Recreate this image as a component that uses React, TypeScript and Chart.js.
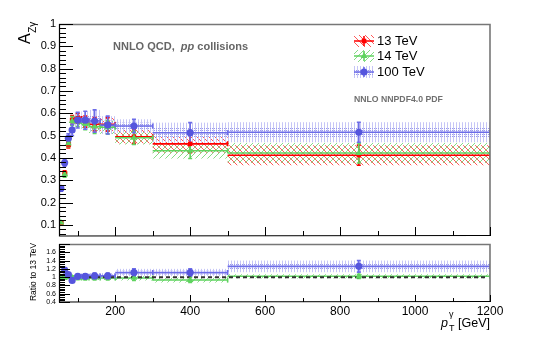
import React, { useEffect, useRef } from "react";
import { Chart, registerables } from "chart.js";
Chart.register(...registerables);

const FONT = "'Liberation Sans', Arial, Helvetica, sans-serif";

// ---- data ----
const binEdges = [50, 60, 70, 80, 90, 110, 130, 160, 200, 300, 500, 1200];
const seriesNames = ["13 TeV", "14 TeV", "100 TeV"];
const azg13 = [0.11, 0.33, 0.46, 0.57, 0.577, 0.563, 0.551, 0.55, 0.495, 0.463, 0.412];
const err13 = [0.008, 0.012, 0.015, 0.02, 0.022, 0.025, 0.03, 0.03, 0.03, 0.04, 0.045];
const azg14 = [0.11, 0.326, 0.465, 0.565, 0.563, 0.551, 0.54, 0.537, 0.49, 0.432, 0.422];
const err14 = [0.008, 0.012, 0.015, 0.02, 0.022, 0.025, 0.03, 0.03, 0.03, 0.035, 0.045];
const azg100 = [0.263, 0.378, 0.488, 0.525, 0.569, 0.569, 0.565, 0.547, 0.543, 0.513, 0.515];
const err100 = [0.012, 0.015, 0.02, 0.025, 0.035, 0.04, 0.05, 0.04, 0.03, 0.045, 0.045];
const ratio14 = [1.0, 0.99, 1.01, 0.99, 0.98, 0.98, 0.98, 0.98, 0.98, 0.93, 1.02];
const ratioErr14 = [0.04, 0.03, 0.03, 0.03, 0.04, 0.05, 0.05, 0.05, 0.06, 0.06, 0.05];
const ratio100 = [2.4, 1.17, 1.06, 0.92, 1.02, 1.02, 1.03, 1.03, 1.11, 1.11, 1.26];
const ratioErr100 = [0.1, 0.05, 0.04, 0.04, 0.05, 0.06, 0.07, 0.07, 0.09, 0.09, 0.14];
const yTicksMain = [0.1, 0.2, 0.3, 0.4, 0.5, 0.6, 0.7, 0.8, 0.9, 1];
const yTicksRatio = [0.4, 0.6, 0.8, 1, 1.2, 1.4, 1.6];
const xTicks = [200, 400, 600, 800, 1000, 1200];

const RED = "#ff0000";
const GREEN = "#5fd35f";
const BLUE_M = "#5555dd";
const BLUE_L = "#6c6ce8";

type Pats = { red: any; green: any; blueOuter: any; blueInner: any };
let patCache: Pats | null = null;
function patterns(ctx: CanvasRenderingContext2D): Pats {
  if (patCache) return patCache;
  const mk = (w: number, h: number, fn: (g: CanvasRenderingContext2D) => void) => {
    const c = document.createElement("canvas");
    c.width = w;
    c.height = h;
    const g = c.getContext("2d")!;
    fn(g);
    return ctx.createPattern(c, "repeat");
  };
  patCache = {
    red: mk(6, 6, (g) => {
      g.fillStyle = "rgba(255,70,70,0.9)";
      for (let i = 0; i < 6; i++) g.fillRect(i, i, 1, 1);
    }),
    green: mk(6, 6, (g) => {
      g.fillStyle = "rgba(120,215,120,0.9)";
      for (let i = 0; i < 6; i++) g.fillRect(5 - i, i, 1, 1);
    }),
    blueOuter: mk(3, 1, (g) => {
      g.fillStyle = "#c6c6f6";
      g.fillRect(0, 0, 1, 1);
    }),
    blueInner: mk(2, 2, (g) => {
      g.fillStyle = "#9a9aec";
      g.fillRect(0, 0, 1, 1);
    }),
  };
  return patCache;
}

type Series = { vals: number[]; errs: number[]; color: string; band: "red" | "green" | "blue" };

function drawSeriesBands(chart: any, series: Series[]) {
  const { ctx, chartArea: a, scales } = chart;
  const xs = scales.x;
  const ys = scales.y;
  const p = patterns(ctx);
  ctx.save();
  ctx.beginPath();
  ctx.rect(a.left, a.top, a.right - a.left, a.bottom - a.top);
  ctx.clip();
  for (const s of series) {
    for (let i = 0; i < s.vals.length; i++) {
      const xl = xs.getPixelForValue(binEdges[i]);
      const xr = xs.getPixelForValue(binEdges[i + 1]);
      const yt = ys.getPixelForValue(s.vals[i] + s.errs[i]);
      const yb = ys.getPixelForValue(s.vals[i] - s.errs[i]);
      if (s.band === "blue") {
        ctx.fillStyle = p.blueOuter;
        ctx.fillRect(xl, yt, xr - xl, yb - yt);
        const yt2 = ys.getPixelForValue(s.vals[i] + s.errs[i] * 0.5);
        const yb2 = ys.getPixelForValue(s.vals[i] - s.errs[i] * 0.5);
        ctx.fillStyle = p.blueInner;
        ctx.fillRect(xl, yt2, xr - xl, yb2 - yt2);
      } else {
        ctx.fillStyle = p[s.band];
        ctx.fillRect(xl, yt, xr - xl, yb - yt);
      }
    }
  }
  for (const s of series) {
    ctx.strokeStyle = s.color;
    ctx.lineWidth = 1.6;
    for (let i = 0; i < s.vals.length; i++) {
      const xl = xs.getPixelForValue(binEdges[i]);
      const xr = xs.getPixelForValue(binEdges[i + 1]);
      const xc = xs.getPixelForValue((binEdges[i] + binEdges[i + 1]) / 2);
      const yc = ys.getPixelForValue(s.vals[i]);
      const yt = ys.getPixelForValue(s.vals[i] + s.errs[i]);
      const yb = ys.getPixelForValue(s.vals[i] - s.errs[i]);
      ctx.beginPath();
      ctx.moveTo(xl, yc);
      ctx.lineTo(xr, yc);
      ctx.moveTo(xr, yc - 2.5);
      ctx.lineTo(xr, yc + 2.5);
      ctx.moveTo(xc, yt);
      ctx.lineTo(xc, yb);
      ctx.moveTo(xc - 2, yt);
      ctx.lineTo(xc + 2, yt);
      ctx.moveTo(xc - 2, yb);
      ctx.lineTo(xc + 2, yb);
      ctx.stroke();
    }
  }
  ctx.restore();
}

function drawFrameAndTicks(chart: any, yMinorStep: number, yMajLen: number, yMinLen: number, xMajLen: number, xMinLen: number) {
  const { ctx, chartArea: a, scales } = chart;
  const ys = scales.y;
  const xs = scales.x;
  ctx.save();
  ctx.strokeStyle = "#777";
  ctx.lineWidth = 1.6;
  ctx.beginPath();
  ctx.moveTo(a.left, a.top + 0.5);
  ctx.lineTo(a.right, a.top + 0.5);
  ctx.lineTo(a.right, a.bottom);
  ctx.stroke();
  ctx.strokeStyle = "#000";
  ctx.lineWidth = 1.2;
  ctx.beginPath();
  ctx.moveTo(a.left + 0.5, a.top);
  ctx.lineTo(a.left + 0.5, a.bottom);
  ctx.lineTo(a.right, a.bottom - 0.5);
  ctx.stroke();
  ctx.lineWidth = 1;
  ctx.beginPath();
  const ymin = ys.min;
  const ymax = ys.max;
  const nStart = Math.ceil(ymin / yMinorStep - 1e-6);
  const nEnd = Math.floor(ymax / yMinorStep + 1e-6);
  for (let n = nStart; n <= nEnd; n++) {
    const v = n * yMinorStep;
    const major = Math.abs(v * 10 - Math.round(v * 10)) < 1e-6 && (yMinorStep < 0.03 || Math.round(v * 10) % 2 === 0);
    const y = Math.round(ys.getPixelForValue(v)) + 0.5;
    ctx.moveTo(a.left, y);
    ctx.lineTo(a.left + (major ? yMajLen : yMinLen), y);
  }
  for (let v = 100; v <= 1200; v += 100) {
    const x = Math.round(xs.getPixelForValue(v)) + 0.5;
    const major = v % 200 === 0;
    ctx.moveTo(x, a.bottom);
    ctx.lineTo(x, a.bottom - (major ? xMajLen : xMinLen));
  }
  ctx.stroke();
  ctx.restore();
}

function drawMarker(ctx: CanvasRenderingContext2D, style: string, x: number, y: number, color: string) {
  ctx.fillStyle = color;
  ctx.beginPath();
  if (style === "rect") ctx.rect(x - 2.3, y - 2.3, 4.6, 4.6);
  else if (style === "triangle") {
    ctx.moveTo(x, y - 3.8);
    ctx.lineTo(x + 3.3, y + 1.9);
    ctx.lineTo(x - 3.3, y + 1.9);
    ctx.closePath();
  } else ctx.arc(x, y, 3.6, 0, Math.PI * 2);
  ctx.fill();
}

const mainSeries: Series[] = [
  { vals: azg13, errs: err13, color: RED, band: "red" },
  { vals: azg14, errs: err14, color: GREEN, band: "green" },
  { vals: azg100, errs: err100, color: BLUE_L, band: "blue" },
];
const ratioSeries: Series[] = [
  { vals: ratio14, errs: ratioErr14, color: GREEN, band: "green" },
  { vals: ratio100, errs: ratioErr100, color: BLUE_L, band: "blue" },
];

const topPlugin = {
  id: "topPanel",
  beforeDatasetsDraw(chart: any) {
    drawSeriesBands(chart, mainSeries);
  },
  afterDraw(chart: any) {
    const ctx: CanvasRenderingContext2D = chart.ctx;
    drawFrameAndTicks(chart, 0.02, 14, 7, 9, 5);
    ctx.save();
    ctx.fillStyle = "#666";
    ctx.textBaseline = "alphabetic";
    ctx.textAlign = "left";
    let x = 113;
    const yb = 50;
    ctx.font = `bold 11px ${FONT}`;
    const t1 = "NNLO QCD,  ";
    ctx.fillText(t1, x, yb);
    x += ctx.measureText(t1).width;
    ctx.font = `italic bold 11px ${FONT}`;
    ctx.fillText("pp", x, yb);
    x += ctx.measureText("pp").width;
    ctx.font = `bold 11px ${FONT}`;
    ctx.fillText(" collisions", x, yb);
    ctx.fillStyle = "#707070";
    ctx.font = `bold 8.7px ${FONT}`;
    ctx.fillText("NNLO NNPDF4.0 PDF", 354, 102);
    const rows = [41, 56, 72];
    const p = patterns(ctx);
    const styles = ["rect", "triangle", "circle"];
    const lineCols = [RED, GREEN, BLUE_L];
    const markCols = [RED, GREEN, BLUE_M];
    for (let k = 0; k < 3; k++) {
      const y = rows[k];
      if (k === 2) {
        ctx.fillStyle = p.blueOuter;
        ctx.fillRect(354, y - 6, 20, 12);
        ctx.fillStyle = p.blueInner;
        ctx.fillRect(354, y - 3, 20, 6);
      } else {
        ctx.fillStyle = k === 0 ? p.red : p.green;
        ctx.fillRect(354, y - 6, 20, 12);
      }
      ctx.strokeStyle = lineCols[k];
      ctx.lineWidth = 1.6;
      ctx.beginPath();
      ctx.moveTo(354, y);
      ctx.lineTo(374, y);
      ctx.moveTo(364, y - 5);
      ctx.lineTo(364, y + 5);
      ctx.stroke();
      drawMarker(ctx, styles[k], 364, y, markCols[k]);
      ctx.fillStyle = "#000";
      ctx.font = `13px ${FONT}`;
      ctx.textBaseline = "middle";
      ctx.fillText(seriesNames[k], 377, y + 0.5);
    }
    ctx.translate(30, 44);
    ctx.rotate(-Math.PI / 2);
    ctx.fillStyle = "#000";
    ctx.textBaseline = "alphabetic";
    ctx.font = `16px ${FONT}`;
    ctx.fillText("A", 0, 0);
    const wa = ctx.measureText("A").width;
    ctx.font = `10px ${FONT}`;
    ctx.fillText("Zγ", wa + 0.5, 6);
    ctx.restore();
  },
};

const bottomPlugin = {
  id: "bottomPanel",
  beforeDatasetsDraw(chart: any) {
    drawSeriesBands(chart, ratioSeries);
    const { ctx, chartArea: a, scales } = chart;
    const y = scales.y.getPixelForValue(1);
    ctx.save();
    ctx.strokeStyle = "#333";
    ctx.lineWidth = 2;
    ctx.setLineDash([4, 3]);
    ctx.beginPath();
    ctx.moveTo(a.left + 2, y);
    ctx.lineTo(a.right - 2, y);
    ctx.stroke();
    ctx.restore();
  },
  afterDraw(chart: any) {
    const ctx: CanvasRenderingContext2D = chart.ctx;
    drawFrameAndTicks(chart, 0.04, 11, 6, 7, 4);
    ctx.save();
    ctx.fillStyle = "#000";
    ctx.font = `8.5px ${FONT}`;
    ctx.textAlign = "center";
    ctx.textBaseline = "alphabetic";
    ctx.translate(36, 32);
    ctx.rotate(-Math.PI / 2);
    ctx.fillText("Ratio to 13 TeV", 0, 0);
    ctx.restore();
    ctx.save();
    ctx.fillStyle = "#000";
    ctx.textAlign = "left";
    ctx.textBaseline = "alphabetic";
    const base = 87;
    ctx.font = `italic 12.5px ${FONT}`;
    const wp = ctx.measureText("p").width;
    ctx.font = `12.5px ${FONT}`;
    const wg = ctx.measureText(" [GeV]").width;
    ctx.font = `9px ${FONT}`;
    const ws = Math.max(ctx.measureText("T").width, ctx.measureText("γ").width);
    const x0 = 490 - (wp + ws + 1 + wg);
    ctx.font = `italic 12.5px ${FONT}`;
    ctx.fillText("p", x0, base);
    ctx.font = `9px ${FONT}`;
    ctx.fillText("γ", x0 + wp + 1, base - 10);
    ctx.fillText("T", x0 + wp + 1, base + 4);
    ctx.font = `12.5px ${FONT}`;
    ctx.fillText(" [GeV]", x0 + wp + ws + 1, base);
    ctx.restore();
  },
};

export default function App() {
  const topRef = useRef<HTMLCanvasElement>(null);
  const botRef = useRef<HTMLCanvasElement>(null);
  useEffect(() => {
    const centers = binEdges.slice(0, -1).map((e, i) => (e + binEdges[i + 1]) / 2);
    const pts = (vals: number[]) => vals.map((v, i) => ({ x: centers[i], y: v }));
    const ds = (label: string, vals: number[], style: string, r: number, color: string, order: number) => ({
      label,
      data: pts(vals),
      pointStyle: style,
      pointRadius: r,
      pointBackgroundColor: color,
      pointBorderColor: color,
      pointBorderWidth: 0,
      showLine: false,
      order,
    });
    const yAxisCommon = (ticks: number[], size: number) => ({
      type: "linear",
      afterBuildTicks: (s: any) => {
        s.ticks = ticks.map((v) => ({ value: v }));
      },
      afterFit: (s: any) => {
        s.width = 59;
        s.paddingTop = 0;
        s.paddingBottom = 0;
      },
      grid: { display: false, drawTicks: false },
      border: { display: false },
      ticks: { padding: 3, autoSkip: false, color: "#000", font: { family: FONT, size }, callback: (v: any) => String(v) },
    });
    const top = new Chart(topRef.current!, {
      type: "scatter",
      data: {
        datasets: [
          ds(seriesNames[2], azg100, "circle", 3.6, BLUE_M, 0),
          ds(seriesNames[1], azg14, "triangle", 3.8, GREEN, 1),
          ds(seriesNames[0], azg13, "rect", 3.2, RED, 2),
        ] as any,
      },
      options: {
        animation: false,
        responsive: false,
        devicePixelRatio: 1,
        events: [],
        layout: { padding: { top: 24, right: 55, bottom: 1, left: 0 } },
        plugins: { legend: { display: false }, tooltip: { enabled: false } },
        scales: {
          x: { type: "linear", min: 50, max: 1200, display: false },
          y: { ...yAxisCommon(yTicksMain, 11), min: 0.05, max: 1 } as any,
        },
      },
      plugins: [topPlugin],
    });
    const bot = new Chart(botRef.current!, {
      type: "scatter",
      data: {
        datasets: [
          ds(seriesNames[2], ratio100, "circle", 3.6, BLUE_M, 0),
          ds(seriesNames[1], ratio14, "triangle", 3.8, GREEN, 1),
        ] as any,
      },
      options: {
        animation: false,
        responsive: false,
        devicePixelRatio: 1,
        events: [],
        layout: { padding: { top: 2, right: 55, bottom: 0, left: 0 } },
        plugins: { legend: { display: false }, tooltip: { enabled: false } },
        scales: {
          x: {
            type: "linear",
            min: 50,
            max: 1200,
            position: "bottom",
            afterBuildTicks: (s: any) => {
              s.ticks = xTicks.map((v) => ({ value: v }));
            },
            afterFit: (s: any) => {
              s.height = 44;
            },
            grid: { display: false, drawTicks: false },
            border: { display: false },
            ticks: { padding: 2, color: "#000", maxRotation: 0, autoSkip: false, font: { family: FONT, size: 12 }, callback: (v: any) => String(v) },
          },
          y: { ...yAxisCommon(yTicksRatio, 7), min: 0.4, max: 1.8 } as any,
        },
      },
      plugins: [bottomPlugin],
    });
    return () => {
      top.destroy();
      bot.destroy();
    };
  }, []);
  return (
    <div style={{ position: "absolute", left: 0, top: 0, width: 545, height: 346, background: "#fff" }}>
      <canvas ref={topRef} width={545} height={240} style={{ position: "absolute", left: 0, top: 0, width: 545, height: 240 }} />
      <canvas ref={botRef} width={545} height={106} style={{ position: "absolute", left: 0, top: 240, width: 545, height: 106 }} />
    </div>
  );
}
